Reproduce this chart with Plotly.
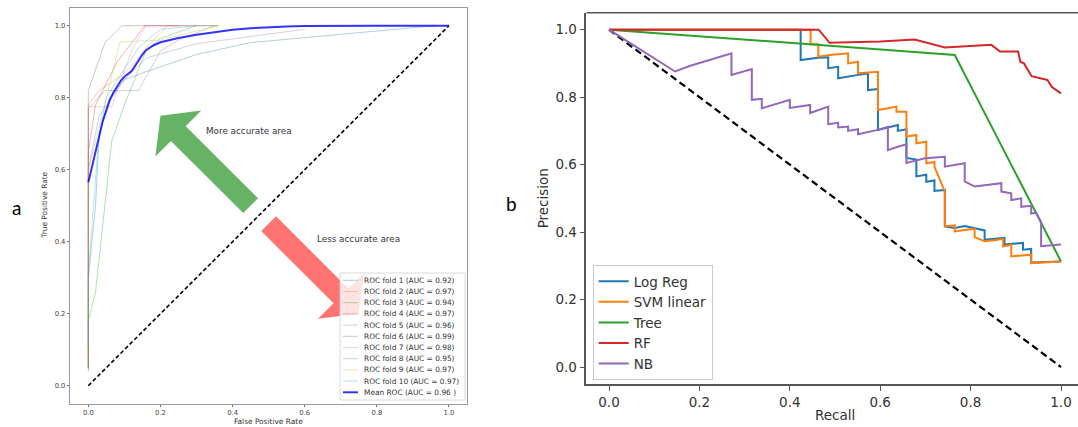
import plotly.graph_objects as go

W, H = 1078, 427

# ---------------- Panel a : ROC data ----------------
fold_auc = ["0.92", "0.97", "0.94", "0.97", "0.96", "0.99", "0.98", "0.95", "0.97", "0.97"]
fold_colors = ["#1f77b4", "#ff7f0e", "#2ca02c", "#d62728", "#9467bd",
               "#8c564b", "#e377c2", "#7f7f7f", "#bcbd22", "#17becf"]

fold1_fpr = [0, 0, 0.02, 0.03, 0.06, 0.10, 0.16, 0.30, 0.45, 0.96]
fold1_tpr = [0.05, 0.30, 0.50, 0.70, 0.80, 0.85, 0.872, 0.92, 0.953, 1.0]
fold2_fpr = [0, 0, 0.03, 0.09, 0.13, 0.17, 0.22, 0.30]
fold2_tpr = [0.10, 0.78, 0.82, 0.86, 0.90, 0.95, 1.0, 1.0]
fold3_fpr = [0, 0, 0.02, 0.045, 0.065, 0.10, 0.16, 0.20, 0.30, 0.36]
fold3_tpr = [0.04, 0.18, 0.26, 0.50, 0.68, 0.78, 0.93, 0.965, 1.0, 1.0]
fold4_fpr = [0, 0, 0.02, 0.08, 0.157, 0.25]
fold4_tpr = [0.05, 0.65, 0.78, 0.90, 1.0, 1.0]
fold5_fpr = [0, 0, 0.03, 0.10, 0.16, 0.30, 0.45, 0.60]
fold5_tpr = [0.05, 0.60, 0.75, 0.85, 0.91, 0.95, 0.97, 0.99]
fold6_fpr = [0, 0, 0.046, 0.093, 0.36]
fold6_tpr = [0.045, 0.82, 0.953, 1.0, 1.0]
fold7_fpr = [0, 0, 0.065, 0.09, 0.12, 0.16, 0.26]
fold7_tpr = [0.10, 0.775, 0.775, 0.85, 0.93, 1.0, 1.0]
fold8_fpr = [0, 0, 0.046, 0.139, 0.20, 0.25, 0.35]
fold8_tpr = [0.05, 0.77, 0.82, 0.82, 0.93, 0.96, 1.0]
fold9_fpr = [0, 0, 0.05, 0.088, 0.20, 0.28, 0.36]
fold9_tpr = [0.05, 0.60, 0.80, 0.955, 0.96, 0.98, 1.0]
fold10_fpr = [0, 0, 0.028, 0.05, 0.10, 0.14, 0.20, 0.30]
fold10_tpr = [0.10, 0.31, 0.68, 0.80, 0.88, 0.94, 0.99, 1.0]

fold_fprs = [fold1_fpr, fold2_fpr, fold3_fpr, fold4_fpr, fold5_fpr,
             fold6_fpr, fold7_fpr, fold8_fpr, fold9_fpr, fold10_fpr]
fold_tprs = [fold1_tpr, fold2_tpr, fold3_tpr, fold4_tpr, fold5_tpr,
             fold6_tpr, fold7_tpr, fold8_tpr, fold9_tpr, fold10_tpr]

mean_fpr = [0, 0.005, 0.01, 0.015, 0.02, 0.03, 0.04, 0.05, 0.06, 0.07, 0.08, 0.09, 0.10,
            0.11, 0.12, 0.13, 0.14, 0.15, 0.16, 0.18, 0.20, 0.22, 0.25, 0.30, 0.35, 0.40,
            0.45, 0.50, 0.55, 0.60, 0.70, 0.80, 1.0]
mean_tpr = [0.565, 0.585, 0.607, 0.628, 0.648, 0.692, 0.735, 0.768, 0.795, 0.815, 0.832,
            0.847, 0.858, 0.866, 0.874, 0.889, 0.905, 0.920, 0.932, 0.945, 0.954, 0.959,
            0.966, 0.975, 0.983, 0.989, 0.993, 0.996, 0.998, 0.999, 1.0, 1.0, 1.0]
mean_label = "Mean ROC (AUC = 0.96 )"

chance_a_x = [0, 1]
chance_a_y = [0, 1]

# ---------------- Panel b : Precision-Recall data ----------------
lr_recall = [0, 0.424, 0.424, 0.462, 0.485, 0.485, 0.507, 0.507, 0.551, 0.573, 0.573,
             0.595, 0.595, 0.617, 0.639, 0.639, 0.658, 0.658, 0.680, 0.680, 0.702,
             0.702, 0.720, 0.720, 0.743, 0.743, 0.765, 0.787, 0.809, 0.831, 0.831,
             0.853, 0.875, 0.875, 0.897, 0.916, 0.916, 0.934, 0.934, 1.0]
lr_precision = [1.0, 1.0, 0.910, 0.917, 0.918, 0.886, 0.890, 0.856, 0.866, 0.870, 0.821,
                0.824, 0.703, 0.710, 0.717, 0.700, 0.705, 0.620, 0.615, 0.565, 0.570,
                0.549, 0.553, 0.522, 0.525, 0.417, 0.412, 0.418, 0.412, 0.405, 0.377,
                0.380, 0.383, 0.363, 0.365, 0.368, 0.348, 0.350, 0.310, 0.313]

svm_recall = [0, 0.446, 0.446, 0.463, 0.463, 0.488, 0.529, 0.529, 0.551, 0.551, 0.595,
              0.595, 0.617, 0.636, 0.636, 0.658, 0.658, 0.680, 0.680, 0.702, 0.702,
              0.720, 0.720, 0.743, 0.743, 0.765, 0.765, 0.787, 0.809, 0.809, 0.831,
              0.853, 0.872, 0.872, 0.890, 0.890, 0.912, 0.934, 0.934, 1.0]
svm_precision = [1.0, 1.0, 0.957, 0.957, 0.920, 0.925, 0.930, 0.900, 0.905, 0.871, 0.875,
                 0.762, 0.767, 0.772, 0.757, 0.757, 0.683, 0.688, 0.663, 0.668, 0.604,
                 0.608, 0.594, 0.520, 0.417, 0.420, 0.402, 0.406, 0.410, 0.385, 0.373,
                 0.376, 0.380, 0.358, 0.362, 0.328, 0.330, 0.333, 0.308, 0.313]

tree_recall = [0, 0.765, 1.0]
tree_precision = [1.0, 0.925, 0.313]

rf_recall = [0, 0.464, 0.488, 0.600, 0.676, 0.743, 0.846, 0.865, 0.905, 0.910, 0.918,
             0.930, 0.935, 0.970, 0.980, 1.0]
rf_precision = [1.0, 1.0, 0.961, 0.965, 0.971, 0.947, 0.955, 0.935, 0.935, 0.905, 0.900,
                0.870, 0.862, 0.851, 0.830, 0.811]

nb_recall = [0, 0.146, 0.18, 0.22, 0.271, 0.271, 0.316, 0.316, 0.338, 0.338, 0.400,
             0.400, 0.445, 0.445, 0.462, 0.485, 0.485, 0.507, 0.507, 0.529, 0.529,
             0.551, 0.551, 0.595, 0.617, 0.617, 0.639, 0.658, 0.658, 0.680, 0.699,
             0.743, 0.743, 0.787, 0.787, 0.809, 0.868, 0.868, 0.890, 0.890, 0.912,
             0.912, 0.934, 0.934, 0.945, 0.956, 0.956, 1.0]
nb_precision = [1.0, 0.876, 0.893, 0.910, 0.930, 0.866, 0.883, 0.792, 0.795, 0.767, 0.792,
                0.768, 0.777, 0.753, 0.762, 0.772, 0.720, 0.724, 0.710, 0.713, 0.700,
                0.705, 0.690, 0.703, 0.712, 0.643, 0.653, 0.660, 0.605, 0.612, 0.619,
                0.623, 0.594, 0.604, 0.550, 0.535, 0.545, 0.520, 0.515, 0.495, 0.500,
                0.475, 0.478, 0.455, 0.457, 0.430, 0.358, 0.363]

chance_b_x = [0, 1]
chance_b_y = [1, 0]

pr_names = ["Log Reg", "SVM linear", "Tree", "RF", "NB"]
pr_colors = ["#1f77b4", "#ff7f0e", "#2ca02c", "#d62728", "#9467bd"]
pr_recalls = [lr_recall, svm_recall, tree_recall, rf_recall, nb_recall]
pr_precisions = [lr_precision, svm_precision, tree_precision, rf_precision, nb_precision]

# ---------------- helpers ----------------
def px(x):
    return x / W

def py(y):
    return 1 - y / H

def rgba(hexc, a):
    h = hexc.lstrip("#")
    r, g, b = int(h[0:2], 16), int(h[2:4], 16), int(h[4:6], 16)
    return f"rgba({r},{g},{b},{a})"

def arrow_path(tail, tip, shaft_w, head_w, head_len):
    tx, ty = tail
    hx, hy = tip
    dx, dy = hx - tx, hy - ty
    L = (dx * dx + dy * dy) ** 0.5
    ux, uy = dx / L, dy / L
    nx, ny = -uy, ux
    bx, by = hx - ux * head_len, hy - uy * head_len
    s, hw = shaft_w / 2, head_w / 2
    pts = [(tx + nx * s, ty + ny * s), (bx + nx * s, by + ny * s),
           (bx + nx * hw, by + ny * hw), (hx, hy),
           (bx - nx * hw, by - ny * hw), (bx - nx * s, by - ny * s),
           (tx - nx * s, ty - ny * s)]
    return "M " + " L ".join(f"{x},{y}" for x, y in pts) + " Z"

FONT = "DejaVu Sans"
fig = go.Figure()

# ---- panel a traces ----
fig.add_trace(go.Scatter(x=chance_a_x, y=chance_a_y, mode="lines",
                         line=dict(color="black", width=1.6, dash="4px,2.5px"),
                         xaxis="x", yaxis="y", showlegend=False, hoverinfo="skip"))
for i in range(10):
    fig.add_trace(go.Scatter(x=fold_fprs[i], y=fold_tprs[i], mode="lines",
                             line=dict(color=rgba(fold_colors[i], 0.35), width=1),
                             xaxis="x", yaxis="y", showlegend=False))
fig.add_trace(go.Scatter(x=mean_fpr, y=mean_tpr, mode="lines",
                         line=dict(color="rgba(0,0,255,0.8)", width=2),
                         xaxis="x", yaxis="y", showlegend=False))

# ---- panel b traces ----
fig.add_trace(go.Scatter(x=chance_b_x, y=chance_b_y, mode="lines",
                         line=dict(color="black", width=2.2, dash="7px,4px"),
                         xaxis="x2", yaxis="y2", showlegend=False, hoverinfo="skip"))
for name, col, rx, ry in zip(pr_names, pr_colors, pr_recalls, pr_precisions):
    fig.add_trace(go.Scatter(x=rx, y=ry, mode="lines", name=name,
                             line=dict(color=col, width=2),
                             xaxis="x2", yaxis="y2", showlegend=True))

shapes = []
# arrows (panel a, data coordinates)
shapes.append(dict(type="path", xref="x", yref="y",
                   path=arrow_path((0.45, 0.50), (0.20, 0.75), 0.058, 0.18, 0.07),
                   fillcolor="#66b366", line=dict(width=0), layer="above"))
shapes.append(dict(type="path", xref="x", yref="y",
                   path=arrow_path((0.50, 0.45), (0.75, 0.20), 0.058, 0.18, 0.07),
                   fillcolor="#ff7373", line=dict(width=0), layer="above"))

# custom legend for panel a
leg_left, leg_top, leg_right, leg_bottom = 340, 273, 465, 400
shapes.append(dict(type="rect", xref="paper", yref="paper",
                   x0=px(leg_left), x1=px(leg_right), y0=py(leg_bottom), y1=py(leg_top),
                   fillcolor="rgba(255,255,255,0.8)", line=dict(color="#d0d0d0", width=0.8),
                   layer="above"))
annotations = []
leg_labels = [f"ROC fold {i + 1} (AUC = {a})" for i, a in enumerate(fold_auc)] + [mean_label]
leg_cols = [rgba(c, 0.35) for c in fold_colors] + ["rgba(0,0,255,0.8)"]
leg_widths = [1] * 10 + [2]
row0, row_step = 280.3, 11.2
for k, (lab, col, lw) in enumerate(zip(leg_labels, leg_cols, leg_widths)):
    yy = row0 + k * row_step
    shapes.append(dict(type="line", xref="paper", yref="paper",
                       x0=px(343), x1=px(358), y0=py(yy), y1=py(yy),
                       line=dict(color=col, width=lw), layer="above"))
    annotations.append(dict(text=lab, xref="paper", yref="paper", x=px(362), y=py(yy),
                            xanchor="left", yanchor="middle", showarrow=False,
                            font=dict(family=FONT, size=7.4, color="#333")))

# top spine for panel b (right spine lies outside the view)
shapes.append(dict(type="line", xref="x2 domain", yref="y2 domain", x0=0, x1=1, y0=1, y1=1,
                   line=dict(color="#555", width=1.5)))

# texts on panel a
annotations.append(dict(text="More accurate area", xref="x", yref="y", x=0.32, y=0.707,
                        xanchor="left", yanchor="middle", showarrow=False,
                        font=dict(family=FONT, size=8.8, color="#333")))
annotations.append(dict(text="Less accurate area", xref="x", yref="y", x=0.628, y=0.407,
                        xanchor="left", yanchor="middle", showarrow=False,
                        font=dict(family=FONT, size=8.8, color="#333")))
# axis titles
annotations.append(dict(text="False Positive Rate", xref="x", yref="paper", x=0.5, y=py(421),
                        xanchor="center", yanchor="middle", showarrow=False,
                        font=dict(family=FONT, size=7.4, color="#333")))
annotations.append(dict(text="True Positive Rate", xref="paper", yref="y", x=px(45), y=0.5,
                        xanchor="center", yanchor="middle", showarrow=False, textangle=-90,
                        font=dict(family=FONT, size=7.4, color="#333")))
annotations.append(dict(text="Recall", xref="x2", yref="paper", x=0.5, y=py(415),
                        xanchor="center", yanchor="middle", showarrow=False,
                        font=dict(family=FONT, size=13.5, color="#333")))
annotations.append(dict(text="Precision", xref="paper", yref="y2", x=px(543), y=0.5,
                        xanchor="center", yanchor="middle", showarrow=False, textangle=-90,
                        font=dict(family=FONT, size=13.5, color="#333")))
# panel letters
annotations.append(dict(text="a", xref="paper", yref="paper", x=px(16), y=py(207),
                        xanchor="center", yanchor="middle", showarrow=False,
                        font=dict(family="Lato", size=19, color="black")))
annotations.append(dict(text="b", xref="paper", yref="paper", x=px(511), y=py(203),
                        xanchor="center", yanchor="middle", showarrow=False,
                        font=dict(family="Lato", size=19, color="black")))

ticks01 = [0, 0.2, 0.4, 0.6, 0.8, 1.0]
tick_text = ["0.0", "0.2", "0.4", "0.6", "0.8", "1.0"]

axis_a = dict(range=[-0.05, 1.05], tickvals=ticks01, ticktext=tick_text, ticks="outside",
              ticklen=2.5, tickwidth=0.8, tickcolor="#777", showgrid=False, zeroline=False,
              showline=True, linecolor="#999", linewidth=1, mirror=True,
              tickfont=dict(family=FONT, size=6.8, color="#444"))
axis_b = dict(tickvals=ticks01, ticktext=tick_text, ticks="outside",
              ticklen=5, tickwidth=1.2, tickcolor="#555", showgrid=False, zeroline=False,
              showline=True, linecolor="#555", linewidth=1.5, mirror=False,
              tickfont=dict(family=FONT, size=13.5, color="#333"))

fig.update_layout(
    width=W, height=H, autosize=False,
    margin=dict(l=0, r=0, t=0, b=0),
    paper_bgcolor="white", plot_bgcolor="white",
    xaxis=dict(axis_a, domain=[px(70.3), px(467)], anchor="y"),
    yaxis=dict(axis_a, domain=[py(403.7), py(7.7)], anchor="x"),
    xaxis2=dict(axis_b, domain=[px(586.4), 1.0], range=[-0.05, (W - 609) / 452], anchor="y2"),
    yaxis2=dict(axis_b, domain=[py(383.9), py(12.8)], range=[-0.05, 1.05], anchor="x2"),
    shapes=shapes,
    annotations=annotations,
    showlegend=True,
    legend=dict(x=px(592.7), y=py(265), xanchor="left", yanchor="top",
                bgcolor="rgba(255,255,255,0.8)", bordercolor="#cccccc", borderwidth=1,
                font=dict(family=FONT, size=13.5, color="#333"), itemwidth=30,
                tracegroupgap=0),
)

fig.write_html("out.html", config={"displayModeBar": False},
               post_script="document.body.style.margin='0';document.body.style.overflow='hidden';")
